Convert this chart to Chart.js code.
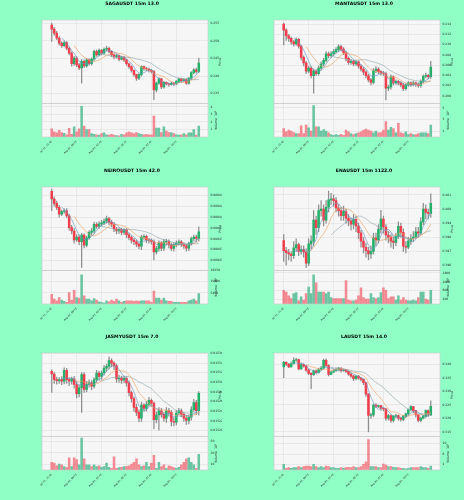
<!DOCTYPE html>
<html><head><meta charset="utf-8">
<script src="https://cdn.jsdelivr.net/npm/chart.js@4.4.1/dist/chart.umd.min.js"></script>
<style>
html,body{margin:0;padding:0;background:#8fffc6;width:464px;height:500px;overflow:hidden}
canvas{position:absolute}
</style></head><body>
<canvas id="c0" width="232" height="166" style="left:0;top:0"></canvas>
<canvas id="c1" width="232" height="166" style="left:232px;top:0"></canvas>
<canvas id="c2" width="232" height="166" style="left:0;top:167px"></canvas>
<canvas id="c3" width="232" height="166" style="left:232px;top:167px"></canvas>
<canvas id="c4" width="232" height="166" style="left:0;top:333px"></canvas>
<canvas id="c5" width="232" height="166" style="left:232px;top:333px"></canvas>
<script>
// ---- x axis ticks (15m bars, 60 per chart) ----
const tickIdx = [0,10,20,30,40,50];
const tickLabels = ['Jul 31, 21:45','Aug 01, 00:15','Aug 01, 02:45','Aug 01, 05:15','Aug 01, 07:45','Aug 01, 10:15'];

// ---- SAGAUSDT ----
const sagaOpen = [0.2545,0.2533,0.2522,0.2508,0.2493,0.2486,0.2495,0.2479,0.2465,0.2435,0.2451,0.2432,0.2423,0.2442,0.2429,0.2446,0.2435,0.2448,0.2470,0.2460,0.2473,0.2465,0.2476,0.2479,0.2470,0.2460,0.2454,0.2458,0.2448,0.2454,0.2446,0.2435,0.2427,0.2416,0.2404,0.2394,0.2404,0.2427,0.2421,0.2420,0.2416,0.2413,0.2361,0.2380,0.2392,0.2369,0.2382,0.2378,0.2376,0.2380,0.2378,0.2385,0.2392,0.2387,0.2390,0.2380,0.2394,0.2410,0.2418,0.2413];
const sagaHigh = [0.2550,0.2538,0.2527,0.2512,0.2497,0.2499,0.2498,0.2483,0.2469,0.2456,0.2455,0.2436,0.2447,0.2446,0.2450,0.2449,0.2452,0.2474,0.2474,0.2477,0.2476,0.2480,0.2485,0.2482,0.2472,0.2463,0.2462,0.2460,0.2457,0.2456,0.2448,0.2437,0.2429,0.2418,0.2406,0.2407,0.2430,0.2429,0.2425,0.2423,0.2419,0.2416,0.2383,0.2396,0.2394,0.2385,0.2384,0.2380,0.2383,0.2383,0.2388,0.2394,0.2394,0.2393,0.2393,0.2396,0.2413,0.2421,0.2423,0.2451];
const sagaLow = [0.2498,0.2515,0.2503,0.2488,0.2481,0.2483,0.2474,0.2460,0.2428,0.2430,0.2427,0.2418,0.2380,0.2424,0.2425,0.2430,0.2431,0.2445,0.2456,0.2457,0.2460,0.2462,0.2472,0.2466,0.2455,0.2449,0.2451,0.2443,0.2446,0.2441,0.2430,0.2422,0.2411,0.2399,0.2388,0.2390,0.2400,0.2416,0.2415,0.2411,0.2408,0.2333,0.2355,0.2376,0.2364,0.2366,0.2374,0.2371,0.2374,0.2373,0.2375,0.2381,0.2382,0.2384,0.2376,0.2376,0.2390,0.2406,0.2408,0.2410];
const sagaClose = [0.2533,0.2522,0.2508,0.2493,0.2486,0.2495,0.2479,0.2465,0.2435,0.2451,0.2432,0.2423,0.2442,0.2429,0.2446,0.2435,0.2448,0.2470,0.2460,0.2473,0.2465,0.2476,0.2479,0.2470,0.2460,0.2454,0.2458,0.2448,0.2454,0.2446,0.2435,0.2427,0.2416,0.2404,0.2394,0.2404,0.2427,0.2421,0.2420,0.2416,0.2413,0.2361,0.2380,0.2392,0.2369,0.2382,0.2378,0.2376,0.2380,0.2378,0.2385,0.2392,0.2387,0.2390,0.2380,0.2394,0.2410,0.2418,0.2413,0.2437];
const sagaVol = [1.1,0.7,0.55,0.9,0.6,0.5,0.3,1.15,0.35,1.35,0.7,1.1,4.1,1.45,1.0,1.0,0.45,0.35,0.3,0.25,0.45,0.55,0.3,0.25,0.35,0.25,0.2,0.15,0.35,0.3,0.55,0.7,0.55,0.45,0.6,0.45,0.35,0.3,0.35,0.3,0.3,2.8,1.2,1.2,0.6,1.35,0.8,0.6,0.6,0.45,0.3,0.25,0.3,0.45,0.3,0.55,0.55,1.0,0.25,1.45];

// ---- MANTAUSDT ----
const mantaOpen = [0.2140,0.2128,0.2117,0.2112,0.2105,0.2101,0.2110,0.2097,0.2075,0.2064,0.2048,0.2054,0.2039,0.2048,0.2043,0.2054,0.2062,0.2069,0.2082,0.2078,0.2082,0.2086,0.2090,0.2096,0.2091,0.2084,0.2073,0.2065,0.2067,0.2062,0.2066,0.2058,0.2052,0.2046,0.2039,0.2031,0.2026,0.2049,0.2052,0.2047,0.2044,0.2043,0.2015,0.2017,0.2037,0.2025,0.2028,0.2025,0.2021,0.2014,0.2021,0.2025,0.2022,0.2025,0.2022,0.2020,0.2028,0.2038,0.2040,0.2037];
const mantaHigh = [0.2142,0.2131,0.2120,0.2115,0.2108,0.2113,0.2112,0.2099,0.2078,0.2067,0.2058,0.2057,0.2052,0.2051,0.2058,0.2066,0.2073,0.2086,0.2085,0.2086,0.2090,0.2094,0.2100,0.2099,0.2094,0.2087,0.2076,0.2071,0.2070,0.2069,0.2068,0.2061,0.2055,0.2049,0.2042,0.2034,0.2053,0.2057,0.2055,0.2049,0.2047,0.2046,0.2021,0.2041,0.2039,0.2031,0.2030,0.2027,0.2024,0.2024,0.2028,0.2027,0.2028,0.2027,0.2025,0.2031,0.2041,0.2044,0.2042,0.2067];
const mantaLow = [0.2099,0.2108,0.2106,0.2100,0.2097,0.2098,0.2093,0.2070,0.2058,0.2043,0.2045,0.2035,0.2005,0.2039,0.2040,0.2050,0.2058,0.2066,0.2074,0.2075,0.2078,0.2083,0.2087,0.2087,0.2080,0.2068,0.2061,0.2061,0.2058,0.2059,0.2054,0.2048,0.2041,0.2035,0.2027,0.2021,0.2023,0.2045,0.2043,0.2040,0.2039,0.1992,0.2010,0.2013,0.2021,0.2022,0.2021,0.2017,0.2010,0.2011,0.2018,0.2018,0.2019,0.2018,0.2016,0.2016,0.2025,0.2035,0.2033,0.2034];
const mantaClose = [0.2128,0.2117,0.2112,0.2105,0.2101,0.2110,0.2097,0.2075,0.2064,0.2048,0.2054,0.2039,0.2048,0.2043,0.2054,0.2062,0.2069,0.2082,0.2078,0.2082,0.2086,0.2090,0.2096,0.2091,0.2084,0.2073,0.2065,0.2067,0.2062,0.2066,0.2058,0.2052,0.2046,0.2039,0.2031,0.2026,0.2049,0.2052,0.2047,0.2044,0.2043,0.2015,0.2017,0.2037,0.2025,0.2028,0.2025,0.2021,0.2014,0.2021,0.2025,0.2022,0.2025,0.2022,0.2020,0.2028,0.2038,0.2040,0.2037,0.2056];
const mantaVol = [1.47,0.88,1.18,1.0,0.76,0.59,0.59,1.94,0.59,2.06,1.59,1.0,5.41,1.76,1.76,1.0,1.29,1.0,0.71,0.41,0.29,0.41,0.29,0.47,0.29,1.18,0.88,0.59,0.41,0.59,0.71,0.88,1.18,1.35,1.18,1.0,0.71,1.0,0.71,0.76,1.18,2.65,1.18,1.65,1.47,0.71,2.35,0.71,0.59,0.88,0.41,0.59,0.41,0.41,0.59,0.71,0.71,0.71,0.59,2.06];

// ---- NEIROUSDT ----
const neiroOpen = [444.81e-6,443.38e-6,442.56e-6,441.81e-6,440.56e-6,441.06e-6,441.19e-6,440.25e-6,438.06e-6,437.44e-6,435.81e-6,436.31e-6,435.44e-6,436.69e-6,434.81e-6,436.19e-6,437.19e-6,437.44e-6,438.69e-6,438.31e-6,438.75e-6,438.94e-6,439.25e-6,439.75e-6,439.06e-6,438.69e-6,437.81e-6,437.44e-6,437.75e-6,437.19e-6,437.69e-6,436.75e-6,436.25e-6,435.75e-6,435.44e-6,435.00e-6,434.63e-6,436.31e-6,436.44e-6,435.81e-6,435.69e-6,435.50e-6,433.56e-6,434.19e-6,435.25e-6,434.25e-6,435.44e-6,435.50e-6,434.88e-6,434.19e-6,434.94e-6,435.19e-6,435.44e-6,435.00e-6,434.69e-6,434.25e-6,435.19e-6,436.00e-6,436.31e-6,436.06e-6];
const neiroHigh = [445.2e-6,443.8e-6,443.0e-6,442.2e-6,441.3e-6,441.6e-6,441.6e-6,440.6e-6,438.5e-6,437.9e-6,436.8e-6,436.7e-6,437.0e-6,436.9e-6,436.5e-6,437.5e-6,437.9e-6,439.1e-6,439.0e-6,439.2e-6,439.4e-6,439.7e-6,440.2e-6,440.0e-6,439.4e-6,439.0e-6,438.1e-6,438.0e-6,438.0e-6,437.9e-6,437.9e-6,437.0e-6,436.5e-6,436.1e-6,435.8e-6,435.3e-6,436.7e-6,436.8e-6,436.7e-6,436.1e-6,436.0e-6,435.8e-6,434.6e-6,435.6e-6,435.5e-6,435.9e-6,435.9e-6,435.8e-6,435.2e-6,435.3e-6,435.6e-6,435.8e-6,435.7e-6,435.3e-6,434.9e-6,435.4e-6,436.3e-6,436.7e-6,436.7e-6,438.2e-6];
const neiroLow = [441.2e-6,442.1e-6,441.4e-6,440.0e-6,440.3e-6,440.7e-6,439.9e-6,437.6e-6,436.9e-6,435.2e-6,435.5e-6,434.9e-6,430.7e-6,434.3e-6,434.5e-6,435.9e-6,436.7e-6,437.0e-6,437.9e-6,437.9e-6,438.4e-6,438.6e-6,438.9e-6,438.6e-6,438.2e-6,437.3e-6,436.9e-6,437.0e-6,436.7e-6,436.8e-6,436.2e-6,435.8e-6,435.2e-6,434.9e-6,434.5e-6,434.1e-6,434.0e-6,435.9e-6,435.3e-6,435.2e-6,435.0e-6,432.1e-6,433.2e-6,433.7e-6,433.8e-6,433.8e-6,434.8e-6,434.3e-6,433.8e-6,433.7e-6,434.5e-6,434.8e-6,434.6e-6,434.2e-6,433.7e-6,433.8e-6,434.8e-6,435.6e-6,435.5e-6,435.6e-6];
const neiroClose = [443.38e-6,442.56e-6,441.81e-6,440.56e-6,441.06e-6,441.19e-6,440.25e-6,438.06e-6,437.44e-6,435.81e-6,436.31e-6,435.44e-6,436.69e-6,434.81e-6,436.19e-6,437.19e-6,437.44e-6,438.69e-6,438.31e-6,438.75e-6,438.94e-6,439.25e-6,439.75e-6,439.06e-6,438.69e-6,437.81e-6,437.44e-6,437.75e-6,437.19e-6,437.69e-6,436.75e-6,436.25e-6,435.75e-6,435.44e-6,435.00e-6,434.63e-6,436.31e-6,436.44e-6,435.81e-6,435.69e-6,435.50e-6,433.56e-6,434.19e-6,435.25e-6,434.25e-6,435.44e-6,435.50e-6,434.88e-6,434.19e-6,434.94e-6,435.19e-6,435.44e-6,435.00e-6,434.69e-6,434.25e-6,435.19e-6,436.00e-6,436.31e-6,436.06e-6,437.31e-6];
const neiroVol = [4760,2380,1590,3170,1900,1270,790,5560,1900,6670,3170,2860,14290,3970,2380,2380,1590,2700,1900,1110,790,480,1590,1110,1900,1270,2380,1590,790,1270,1590,1590,1590,1270,1590,1270,1590,1590,1590,1590,790,6350,2860,2860,1900,2860,1590,1270,1270,790,790,790,790,790,790,1590,1900,2380,1590,5080];

// ---- ENAUSDT ----
const enaOpen = [0.39777,0.39706,0.39691,0.39682,0.39670,0.39725,0.39749,0.39701,0.39713,0.39696,0.39617,0.39753,0.39773,0.39921,0.39868,0.39988,0.40000,0.39921,0.40012,0.40064,0.40071,0.40059,0.40007,0.39988,0.39952,0.39983,0.39935,0.39916,0.39892,0.39926,0.39880,0.39832,0.39773,0.39730,0.39706,0.39682,0.39701,0.39796,0.39782,0.39856,0.39928,0.39873,0.39816,0.39801,0.39773,0.39763,0.39806,0.39878,0.39835,0.39737,0.39730,0.39773,0.39792,0.39801,0.39839,0.39830,0.39909,0.40000,0.39976,0.39969];
const enaHigh = [0.39820,0.39730,0.39715,0.39700,0.39770,0.39790,0.39760,0.39740,0.39740,0.39720,0.39790,0.39810,0.39988,0.39950,0.40030,0.40060,0.40030,0.40060,0.40126,0.40110,0.40100,0.40080,0.40030,0.40010,0.40020,0.40000,0.39960,0.39935,0.39960,0.39950,0.39900,0.39850,0.39800,0.39760,0.39730,0.39740,0.39830,0.39830,0.39890,0.39990,0.39950,0.39890,0.39840,0.39820,0.39800,0.39830,0.39910,0.39900,0.39860,0.39770,0.39800,0.39820,0.39840,0.39870,0.39870,0.39940,0.40040,0.40030,0.40000,0.40107];
const enaLow = [0.39629,0.39605,0.39640,0.39630,0.39650,0.39700,0.39670,0.39680,0.39660,0.39586,0.39600,0.39720,0.39740,0.39820,0.39840,0.39950,0.39880,0.39900,0.39980,0.40030,0.40020,0.39980,0.39950,0.39920,0.39920,0.39900,0.39880,0.39850,0.39860,0.39840,0.39790,0.39730,0.39690,0.39660,0.39640,0.39650,0.39680,0.39740,0.39760,0.39830,0.39830,0.39780,0.39760,0.39730,0.39720,0.39740,0.39790,0.39800,0.39700,0.39690,0.39720,0.39750,0.39770,0.39790,0.39800,0.39820,0.39890,0.39930,0.39930,0.39940];
const enaClose = [0.39706,0.39691,0.39682,0.39670,0.39725,0.39749,0.39701,0.39713,0.39696,0.39617,0.39753,0.39773,0.39921,0.39868,0.39988,0.40000,0.39921,0.40012,0.40064,0.40071,0.40059,0.40007,0.39988,0.39952,0.39983,0.39935,0.39916,0.39892,0.39926,0.39880,0.39832,0.39773,0.39730,0.39706,0.39682,0.39701,0.39796,0.39782,0.39856,0.39928,0.39873,0.39816,0.39801,0.39773,0.39763,0.39806,0.39878,0.39835,0.39737,0.39730,0.39773,0.39792,0.39801,0.39839,0.39830,0.39909,0.40000,0.39976,0.39969,0.40040];
const enaVol = [613,540,365,248,467,511,146,321,175,467,759,467,1314,949,540,540,540,467,540,292,248,248,248,248,248,1051,175,146,146,175,365,730,292,219,219,467,292,248,292,511,730,613,248,321,321,175,365,175,292,175,146,146,175,146,292,540,540,219,175,613];

// ---- JASMYUSDT ----
const jasmyOpen = [1532.27e-5,1531.73e-5,1530.58e-5,1530.37e-5,1530.58e-5,1530.24e-5,1532.47e-5,1530.58e-5,1530.24e-5,1530.71e-5,1529.56e-5,1527.66e-5,1528.88e-5,1531.59e-5,1528.54e-5,1529.56e-5,1529.90e-5,1529.22e-5,1530.58e-5,1531.93e-5,1531.25e-5,1531.93e-5,1532.95e-5,1533.29e-5,1534.51e-5,1533.97e-5,1533.42e-5,1530.71e-5,1530.91e-5,1530.44e-5,1530.85e-5,1529.90e-5,1527.86e-5,1526.64e-5,1524.81e-5,1523.80e-5,1522.58e-5,1525.29e-5,1524.61e-5,1525.42e-5,1526.30e-5,1525.69e-5,1522.30e-5,1523.25e-5,1524.13e-5,1523.39e-5,1522.58e-5,1524.13e-5,1523.80e-5,1521.90e-5,1521.76e-5,1523.66e-5,1524.13e-5,1523.39e-5,1522.58e-5,1522.10e-5,1522.78e-5,1524.34e-5,1525.83e-5,1524.13e-5];
const jasmyHigh = [1532.6e-5,1532.0e-5,1531.1e-5,1531.0e-5,1531.2e-5,1533.0e-5,1532.9e-5,1531.0e-5,1531.1e-5,1531.2e-5,1530.1e-5,1529.5e-5,1532.0e-5,1532.0e-5,1530.2e-5,1530.5e-5,1530.3e-5,1531.0e-5,1532.5e-5,1532.3e-5,1532.4e-5,1533.5e-5,1533.8e-5,1535.3e-5,1534.9e-5,1534.3e-5,1533.8e-5,1531.5e-5,1531.3e-5,1531.3e-5,1531.2e-5,1530.3e-5,1528.2e-5,1527.0e-5,1525.5e-5,1524.3e-5,1525.9e-5,1525.6e-5,1526.0e-5,1526.9e-5,1526.6e-5,1525.9e-5,1523.9e-5,1524.8e-5,1524.6e-5,1523.8e-5,1524.8e-5,1524.6e-5,1524.2e-5,1522.7e-5,1524.2e-5,1524.6e-5,1524.5e-5,1523.8e-5,1523.1e-5,1523.3e-5,1525.0e-5,1526.5e-5,1526.3e-5,1528.1e-5];
const jasmyLow = [1527.9e-5,1529.8e-5,1529.6e-5,1529.8e-5,1529.5e-5,1529.7e-5,1529.8e-5,1529.3e-5,1529.6e-5,1528.8e-5,1526.8e-5,1527.0e-5,1523.8e-5,1527.9e-5,1528.0e-5,1529.0e-5,1528.5e-5,1528.8e-5,1530.0e-5,1530.5e-5,1530.6e-5,1531.5e-5,1532.3e-5,1532.8e-5,1533.2e-5,1532.6e-5,1530.0e-5,1530.0e-5,1529.8e-5,1529.9e-5,1529.2e-5,1527.2e-5,1525.9e-5,1524.0e-5,1523.1e-5,1521.8e-5,1521.9e-5,1524.0e-5,1524.1e-5,1525.0e-5,1525.0e-5,1520.4e-5,1521.6e-5,1520.1e-5,1522.8e-5,1521.9e-5,1521.7e-5,1523.0e-5,1521.0e-5,1521.0e-5,1521.2e-5,1523.3e-5,1522.9e-5,1521.9e-5,1521.3e-5,1521.4e-5,1522.2e-5,1524.0e-5,1523.3e-5,1523.2e-5];
const jasmyClose = [1531.73e-5,1530.58e-5,1530.37e-5,1530.58e-5,1530.24e-5,1532.47e-5,1530.58e-5,1530.24e-5,1530.71e-5,1529.56e-5,1527.66e-5,1528.88e-5,1531.59e-5,1528.54e-5,1529.56e-5,1529.90e-5,1529.22e-5,1530.58e-5,1531.93e-5,1531.25e-5,1531.93e-5,1532.95e-5,1533.29e-5,1534.51e-5,1533.97e-5,1533.42e-5,1530.71e-5,1530.91e-5,1530.44e-5,1530.85e-5,1529.90e-5,1527.86e-5,1526.64e-5,1524.81e-5,1523.80e-5,1522.58e-5,1525.29e-5,1524.61e-5,1525.42e-5,1526.30e-5,1525.69e-5,1522.30e-5,1523.25e-5,1524.13e-5,1523.39e-5,1522.58e-5,1524.13e-5,1523.80e-5,1521.90e-5,1521.76e-5,1523.66e-5,1524.13e-5,1523.39e-5,1522.58e-5,1522.10e-5,1522.78e-5,1524.34e-5,1525.83e-5,1524.13e-5,1527.73e-5];
const jasmyVol = [13.3,12.1,7.3,10.3,9.1,6.1,4.2,21.2,6.1,21.2,18.2,9.1,55.8,19.4,9.1,9.1,6.1,9.1,6.1,7.3,4.8,6.1,12.1,4.8,3.0,23.0,3.0,4.2,4.8,6.1,6.1,7.3,10.3,13.3,19.4,9.1,6.1,7.3,13.3,6.1,12.1,25.5,3.0,13.3,6.1,9.1,3.0,7.3,6.1,4.2,3.0,4.8,9.1,13.3,19.4,21.2,13.3,9.1,3.0,27.3];

// ---- LAUSDT ----
const laOpen = [0.33915,0.34085,0.34012,0.33915,0.34037,0.34159,0.34183,0.33841,0.34000,0.33939,0.33793,0.33671,0.33622,0.33768,0.33695,0.33817,0.33866,0.34159,0.33963,0.33634,0.33719,0.33768,0.33817,0.33866,0.33768,0.33793,0.33744,0.33646,0.33573,0.33475,0.33573,0.33500,0.33451,0.33329,0.32902,0.32109,0.32133,0.32499,0.32451,0.32475,0.32377,0.32353,0.32011,0.32109,0.31926,0.32085,0.32109,0.32011,0.31963,0.32085,0.32170,0.32329,0.32438,0.32292,0.32133,0.31926,0.32011,0.32085,0.32292,0.32133];
const laHigh = [0.34122,0.34110,0.34040,0.34090,0.34244,0.34230,0.34200,0.34060,0.34030,0.33970,0.33830,0.33700,0.33800,0.33800,0.33870,0.33930,0.34200,0.34207,0.34000,0.33760,0.33810,0.33870,0.33900,0.33880,0.33830,0.33820,0.33760,0.33680,0.33600,0.33590,0.33590,0.33520,0.33470,0.33340,0.32920,0.32200,0.32530,0.32550,0.32500,0.32490,0.32400,0.32370,0.32150,0.32130,0.32110,0.32160,0.32130,0.32050,0.32120,0.32200,0.32350,0.32480,0.32450,0.32300,0.32150,0.32050,0.32120,0.32320,0.32320,0.32658];
const laLow = [0.33512,0.33960,0.33880,0.33900,0.34010,0.34120,0.33800,0.33820,0.33900,0.33740,0.33620,0.33109,0.33600,0.33650,0.33680,0.33780,0.33830,0.33920,0.33580,0.33620,0.33700,0.33740,0.33790,0.33720,0.33740,0.33700,0.33600,0.33520,0.33400,0.33430,0.33450,0.33380,0.33250,0.32820,0.31499,0.32000,0.32080,0.32400,0.32400,0.32300,0.32280,0.31930,0.31950,0.31850,0.31870,0.32020,0.31940,0.31900,0.31920,0.32030,0.32120,0.32280,0.32210,0.32050,0.31870,0.31880,0.31980,0.32040,0.32080,0.32100];
const laClose = [0.34085,0.34012,0.33915,0.34037,0.34159,0.34183,0.33841,0.34000,0.33939,0.33793,0.33671,0.33622,0.33768,0.33695,0.33817,0.33866,0.34159,0.33963,0.33634,0.33719,0.33768,0.33817,0.33866,0.33768,0.33793,0.33744,0.33646,0.33573,0.33475,0.33573,0.33500,0.33451,0.33329,0.32902,0.32109,0.32133,0.32499,0.32451,0.32475,0.32377,0.32353,0.32011,0.32109,0.31926,0.32085,0.32109,0.32011,0.31963,0.32085,0.32170,0.32329,0.32438,0.32292,0.32133,0.31926,0.32011,0.32085,0.32292,0.32133,0.32451];
const laVol = [2.1,0.6,0.9,0.6,0.9,0.9,1.25,0.9,1.25,1.5,1.5,1.25,2.1,1.25,0.9,1.25,0.9,1.5,1.25,0.9,0.9,0.6,0.6,0.9,0.6,0.9,1.0,0.9,1.25,0.9,0.9,1.25,2.1,3.1,11.5,1.25,1.25,1.25,0.9,0.9,2.25,1.9,1.25,1.25,1.0,0.9,0.9,0.6,0.6,0.4,0.6,0.9,0.9,0.9,0.9,1.25,0.9,0.9,0.6,1.5];

// moving-average periods drawn over the candles
const mavPeriods = [5,10,20];

const FONT = 'DejaVu Sans';
Chart.defaults.font.family = FONT;
const UP = '#22b06a', DOWN = '#f03e4c';
const UPV = 'rgba(70,185,140,0.8)', DOWNV = 'rgba(242,100,112,0.75)';
const MAC = ['rgba(105,150,195,0.9)','rgba(240,160,95,0.9)','rgba(150,172,176,0.95)'];

function sma(arr, n) {
  return arr.map((_, i) => {
    if (i < n - 1) return null;
    let s = 0; for (let k = i - n + 1; k <= i; k++) s += arr[k];
    return s / n;
  });
}

const panelPlugin = {
  id: 'panels',
  beforeDraw(chart) {
    const {ctx, chartArea: a} = chart;
    ctx.save();
    ctx.fillStyle = '#f6f6f6';
    ctx.fillRect(a.left, a.top, a.width, a.height);
    ctx.restore();
  },
  afterDraw(chart) {
    const {ctx, chartArea: a, scales} = chart;
    const y = scales.y, v = scales.yv;
    ctx.save();
    ctx.strokeStyle = '#c9c9c9'; ctx.lineWidth = 0.6;
    ctx.strokeRect(a.left, y.top, a.width, y.bottom - y.top);
    ctx.strokeRect(a.left, v.top, a.width, v.bottom - v.top);
    ctx.fillStyle = '#222';
    ctx.font = '3.2px ' + FONT;
    ctx.textAlign = 'center'; ctx.textBaseline = 'middle';
    ctx.translate(a.right + 12, (y.top + y.bottom) / 2); ctx.rotate(-Math.PI / 2);
    ctx.fillText('Price', 0, 0);
    ctx.restore();
    ctx.save();
    ctx.fillStyle = '#222';
    ctx.font = '3.2px ' + FONT;
    ctx.textAlign = 'center'; ctx.textBaseline = 'middle';
    ctx.translate(a.right + 8, (v.top + v.bottom) / 2); ctx.rotate(-Math.PI / 2);
    ctx.fillText(chart.options.plugins.panels.vLabel, 0, 0);
    ctx.restore();
  }
};

function makeChart(c) {
  const idx = c.close.map((_, i) => i);
  const col = idx.map(i => c.close[i] >= c.open[i] ? UP : DOWN);
  const vcol = idx.map(i => c.close[i] >= c.open[i] ? UPV : DOWNV);
  const datasets = [];
  mavPeriods.forEach((p, k) => {
    datasets.push({type: 'line', data: sma(c.close, p).map((v, i) => ({x: i, y: v})),
      borderColor: MAC[k], borderWidth: 0.7, pointRadius: 0, yAxisID: 'y', order: 0, spanGaps: false});
  });
  datasets.push({type: 'bar', data: idx.map(i => ({x: i, y: [c.open[i], c.close[i]]})),
    backgroundColor: col, barThickness: 1.9, grouped: false, minBarLength: 0.5, yAxisID: 'y', order: 1});
  datasets.push({type: 'bar', data: idx.map(i => ({x: i, y: [c.low[i], c.high[i]]})),
    backgroundColor: '#8e8e8e', barThickness: 0.6, grouped: false, yAxisID: 'y', order: 2});
  datasets.push({type: 'bar', data: idx.map(i => ({x: i, y: c.vol[i]})),
    backgroundColor: vcol, barThickness: 1.9, grouped: false, yAxisID: 'yv', order: 3});

  const tickFont = {size: 3, family: FONT};
  const xFont = {size: 2.5, family: FONT};
  const grid = {color: '#dcdcdc', lineWidth: 0.5, tickLength: 1.5, offset: false};
  new Chart(document.getElementById(c.id), {
    type: 'bar',
    data: {datasets},
    options: {
      responsive: false, animation: false, devicePixelRatio: 1,
      layout: {padding: {left: 42, right: 10, top: 0, bottom: 0}},
      plugins: {
        legend: {display: false}, tooltip: {enabled: false},
        title: {display: true, text: c.title, color: '#000',
          font: {size: 4.6, weight: 'bold', family: FONT}, padding: {top: 0.8, bottom: 13.7}},
        panels: {vLabel: c.vLabel}
      },
      scales: {
        x: {type: 'linear', min: -3.9, max: 62.7, offset: false,
          afterBuildTicks: s => { s.ticks = tickIdx.map(v => ({value: v})); },
          afterFit: s => { s.height = 29; },
          ticks: {autoSkip: false, minRotation: 45, maxRotation: 45, font: xFont, color: '#222', padding: 1.5,
            callback: v => tickLabels[tickIdx.indexOf(v)]},
          grid: grid, border: {display: false}},
        y: {type: 'linear', position: 'right', stack: 'p', stackWeight: 2.5, min: c.pMin, max: c.pMax,
          afterFit: s => { s.width = 14; },
          ticks: {stepSize: c.pStep, includeBounds: false, font: tickFont, color: '#222', padding: 1,
            callback: v => v.toFixed(c.pDec)},
          grid: grid, border: {display: false}},
        yv: {type: 'linear', position: 'right', stack: 'p', stackWeight: 1, min: 0, max: c.vMax,
          afterFit: s => { s.width = 14; },
          afterBuildTicks: s => { s.ticks = s.ticks.filter(t => t.value > 0); },
          ticks: {stepSize: c.vStep, includeBounds: false, font: tickFont, color: '#222', padding: 1,
            callback: v => String(v)},
          grid: grid, border: {display: false}}
      }
    },
    plugins: [panelPlugin]
  });
}

makeChart({id: 'c0', title: 'SAGAUSDT 15m 13.0', open: sagaOpen, high: sagaHigh, low: sagaLow, close: sagaClose, vol: sagaVol,
  pMin: 0.2322, pMax: 0.2559, pStep: 0.005, pDec: 3, vMax: 4.45, vStep: 1, vLabel: 'Volume  10⁷'});
makeChart({id: 'c1', title: 'MANTAUSDT 15m 13.0', open: mantaOpen, high: mantaHigh, low: mantaLow, close: mantaClose, vol: mantaVol,
  pMin: 0.19847, pMax: 0.21478, pStep: 0.002, pDec: 3, vMax: 5.76, vStep: 1, vLabel: 'Volume  10⁶'});
makeChart({id: 'c2', title: 'NEIROUSDT 15m 42.0', open: neiroOpen, high: neiroHigh, low: neiroLow, close: neiroClose, vol: neiroVol,
  pMin: 430.1e-6, pMax: 445.6e-6, pStep: 2e-6, pDec: 6, vMax: 16350, vStep: 5000, vLabel: 'Volume  10⁵'});
makeChart({id: 'c3', title: 'ENAUSDT 15m 1122.0', open: enaOpen, high: enaHigh, low: enaLow, close: enaClose, vol: enaVol,
  pMin: 0.39565, pMax: 0.40155, pStep: 0.001, pDec: 3, vMax: 1504, vStep: 200, vLabel: 'Volume  10³'});
makeChart({id: 'c4', title: 'JASMYUSDT 15m 7.0', open: jasmyOpen, high: jasmyHigh, low: jasmyLow, close: jasmyClose, vol: jasmyVol,
  pMin: 1518.78e-5, pMax: 1536.07e-5, pStep: 2e-5, pDec: 5, vMax: 58.2, vStep: 10, vLabel: 'Volume  10⁵'});
makeChart({id: 'c5', title: 'LAUSDT 15m 14.0', open: laOpen, high: laHigh, low: laLow, close: laClose, vol: laVol,
  pMin: 0.31328, pMax: 0.34427, pStep: 0.005, pDec: 3, vMax: 12.6, vStep: 2, vLabel: 'Volume  10⁵'});
</script>
</body></html>
